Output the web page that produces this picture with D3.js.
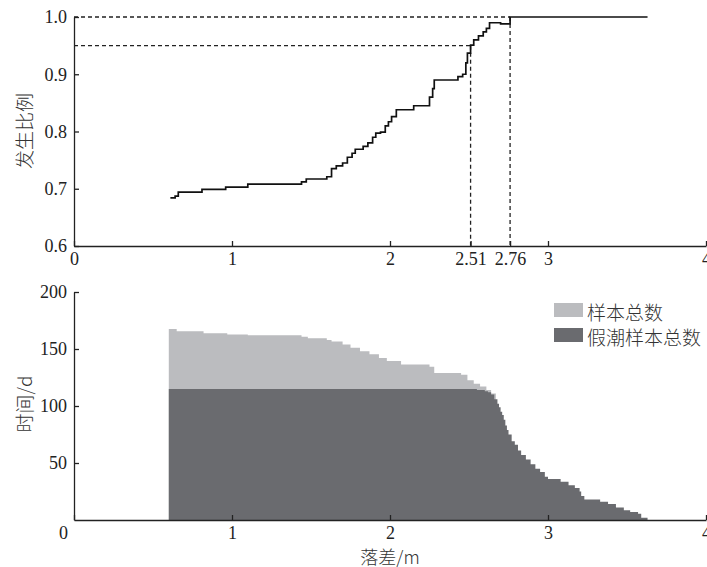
<!DOCTYPE html>
<html>
<head>
<meta charset="utf-8">
<script src="https://cdn.jsdelivr.net/npm/d3@7"></script>
<style>
  body { margin: 0; background: #fff; }
  svg { display: block; }
</style>
</head>
<body>
<div class="canvas"></div>
<script>
// data
// top: cumulative proportion vs. drop (m)
const ratioX = [0.61, 0.64, 0.66, 0.81, 0.96, 1.10, 1.44, 1.47, 1.60, 1.63, 1.66, 1.70, 1.73, 1.76, 1.78, 1.83, 1.86, 1.89, 1.91, 1.94, 1.97, 1.99, 2.01, 2.04, 2.15, 2.25, 2.27, 2.28, 2.43, 2.46, 2.48, 2.49, 2.51, 2.53, 2.56, 2.59, 2.61, 2.63, 2.70, 2.76, 3.63];
const ratioY = [0.684, 0.687, 0.694, 0.699, 0.703, 0.708, 0.712, 0.717, 0.721, 0.735, 0.740, 0.745, 0.755, 0.762, 0.769, 0.774, 0.780, 0.790, 0.797, 0.799, 0.810, 0.817, 0.826, 0.838, 0.845, 0.860, 0.875, 0.890, 0.896, 0.900, 0.920, 0.937, 0.951, 0.960, 0.967, 0.974, 0.980, 0.990, 0.988, 1.000, 1.000];

// marked thresholds (dashed guides)
const guideX = [2.51, 2.76];
const guideY = [0.95, 1.0];

// bottom: days vs. drop (m)
const totalX = [0.60, 0.65, 0.82, 0.97, 1.10, 1.44, 1.48, 1.60, 1.63, 1.70, 1.75, 1.81, 1.87, 1.93, 1.98, 2.07, 2.25, 2.28, 2.45, 2.49, 2.53, 2.57, 2.61, 2.64, 2.67];
const totalDays = [167.5, 165.5, 163.8, 162.8, 162, 160.8, 159.4, 158, 156.5, 154, 151, 148, 145.5, 142, 139.5, 136.5, 134.5, 129, 127.5, 122.5, 119.5, 117, 114, 111, 0];

const falseX = [0.60, 2.55, 2.60, 2.62, 2.64, 2.66, 2.68, 2.69, 2.70, 2.71, 2.72, 2.73, 2.74, 2.75, 2.77, 2.79, 2.81, 2.83, 2.86, 2.89, 2.92, 2.95, 2.98, 3.00, 3.08, 3.13, 3.17, 3.20, 3.21, 3.23, 3.33, 3.38, 3.43, 3.48, 3.52, 3.57, 3.59, 3.63];
const falseDays = [115, 114, 113, 112, 110, 106, 102, 99, 95, 92, 88, 83, 79, 75, 69, 66, 61, 57, 53, 49, 45, 42, 38, 36, 33.5, 30.5, 28, 25, 21, 18, 16, 14, 11, 8.5, 7, 5.5, 2, 0];

const topXTicks = [0, 1, 2, 2.51, 2.76, 3, 4];
const topYTicks = [0.6, 0.7, 0.8, 0.9, 1.0];
const bottomXTicks = [0, 1, 2, 3, 4];
const bottomYTicks = [50, 100, 150, 200];

const legendLabels = ["样本总数", "假潮样本总数"];
const legendColors = ["#bbbcbf", "#6a6b6f"];

const width = 707, height = 567;
const left = 74, right = 706;
const serif = '"Liberation Serif", "DejaVu Serif", serif';
const cjk = '"Noto Sans CJK SC", sans-serif';

const svg = d3.select(".canvas")
    .append("svg")
    .attr("width", width)
    .attr("height", height);

// scales
const x = d3.scaleLinear()
    .domain([0, 4])
    .range([left, right]);

const yTop = d3.scaleLinear()
    .domain([0.6, 1.0])
    .range([246, 17]);

const yBot = d3.scaleLinear()
    .domain([0, 200])
    .range([520, 292]);

function styleAxis(g) {
    g.attr("font-family", serif).attr("font-size", 18);
    g.selectAll("path.domain").attr("stroke", "#222").attr("stroke-width", 1.3);
    g.selectAll(".tick line").attr("stroke", "#222").attr("stroke-width", 1.3);
    g.selectAll(".tick text").attr("fill", "#222");
}

function cjkText(sel) {
    return sel.attr("font-family", cjk)
        .attr("font-size", 19)
        .attr("font-weight", 300)
        .attr("fill", "#333");
}

// ---- top chart ----
const topChart = svg.append("g").attr("class", "top-chart");

// dashed guides
topChart.selectAll(".guide-h")
    .data(guideX)
    .enter().append("line")
    .attr("x1", x(0))
    .attr("x2", d => x(d))
    .attr("y1", (d, i) => yTop(guideY[i]))
    .attr("y2", (d, i) => yTop(guideY[i]))
    .attr("stroke", "#222")
    .attr("stroke-width", 1.3)
    .attr("stroke-dasharray", "4,3");

topChart.selectAll(".guide-v")
    .data(guideX)
    .enter().append("line")
    .attr("x1", d => x(d))
    .attr("x2", d => x(d))
    .attr("y1", (d, i) => yTop(guideY[i]))
    .attr("y2", yTop(0.6))
    .attr("stroke", "#222")
    .attr("stroke-width", 1.3)
    .attr("stroke-dasharray", "4,3");

let ratioLine = d3.line()
    .x(function(d, i) { return x(ratioX[i]); })
    .y(function(d) { return yTop(d); })
    .curve(d3.curveStepAfter);

topChart.append("path")
    .datum(ratioY)
    .attr("fill", "none")
    .attr("stroke", "#111")
    .attr("stroke-width", 1.7)
    .attr("d", ratioLine);

const topXAxis = topChart.append("g")
    .attr("transform", `translate(0, ${yTop(0.6)})`)
    .call(d3.axisBottom(x)
        .tickValues(topXTicks)
        .tickFormat(d => String(d))
        .tickSizeInner(-5)
        .tickSizeOuter(0)
        .tickPadding(6));
styleAxis(topXAxis);

const topYAxis = topChart.append("g")
    .attr("transform", `translate(${left}, 0)`)
    .call(d3.axisLeft(yTop)
        .tickValues(topYTicks)
        .tickFormat(d3.format(".1f"))
        .tickSizeInner(-5)
        .tickSizeOuter(0)
        .tickPadding(7));
styleAxis(topYAxis);

topChart.append("text")
    .call(cjkText)
    .attr("transform", "translate(23, 131)rotate(-90)")
    .attr("text-anchor", "middle")
    .attr("dominant-baseline", "central")
    .text("发生比例");

// ---- bottom chart ----
const botChart = svg.append("g").attr("class", "bottom-chart");

let totalArea = d3.area()
    .x(function(d, i) { return x(totalX[i]); })
    .y0(yBot(0))
    .y1(function(d) { return yBot(d); })
    .curve(d3.curveStepAfter);

let falseArea = d3.area()
    .x(function(d, i) { return x(falseX[i]); })
    .y0(yBot(0))
    .y1(function(d) { return yBot(d); })
    .curve(d3.curveStepAfter);

botChart.append("path")
    .datum(totalDays)
    .attr("fill", legendColors[0])
    .attr("d", totalArea);

botChart.append("path")
    .datum(falseDays)
    .attr("fill", legendColors[1])
    .attr("d", falseArea);

const botXAxis = botChart.append("g")
    .attr("transform", `translate(0, ${yBot(0)})`)
    .call(d3.axisBottom(x)
        .tickValues(bottomXTicks)
        .tickFormat(d => String(d))
        .tickSizeInner(-5)
        .tickSizeOuter(0)
        .tickPadding(6));
styleAxis(botXAxis);
// the "0" sits a little left of the origin in the original
botXAxis.selectAll(".tick text").filter(d => d === 0).attr("dx", -11);

const botYAxis = botChart.append("g")
    .attr("transform", `translate(${left}, 0)`)
    .call(d3.axisLeft(yBot)
        .tickValues(bottomYTicks)
        .tickSizeInner(-5)
        .tickSizeOuter(0)
        .tickPadding(7));
styleAxis(botYAxis);

botChart.append("text")
    .call(cjkText)
    .attr("transform", "translate(23, 404)rotate(-90)")
    .attr("text-anchor", "middle")
    .attr("dominant-baseline", "central")
    .text("时间/d");

botChart.append("text")
    .call(cjkText)
    .attr("font-size", 18)
    .attr("x", x(2))
    .attr("y", 556)
    .attr("text-anchor", "middle")
    .attr("dominant-baseline", "central")
    .text("落差/m");

// legend
const legend = botChart.selectAll(".legend")
    .data(legendLabels)
    .enter().append("g")
    .attr("class", "legend")
    .attr("transform", (d, i) => `translate(554, ${303 + i * 25})`);

legend.append("rect")
    .attr("width", 29)
    .attr("height", 14)
    .attr("fill", (d, i) => legendColors[i]);

legend.append("text")
    .call(cjkText)
    .attr("x", 33)
    .attr("y", 8)
    .attr("dominant-baseline", "central")
    .text(d => d);
</script>
</body>
</html>
